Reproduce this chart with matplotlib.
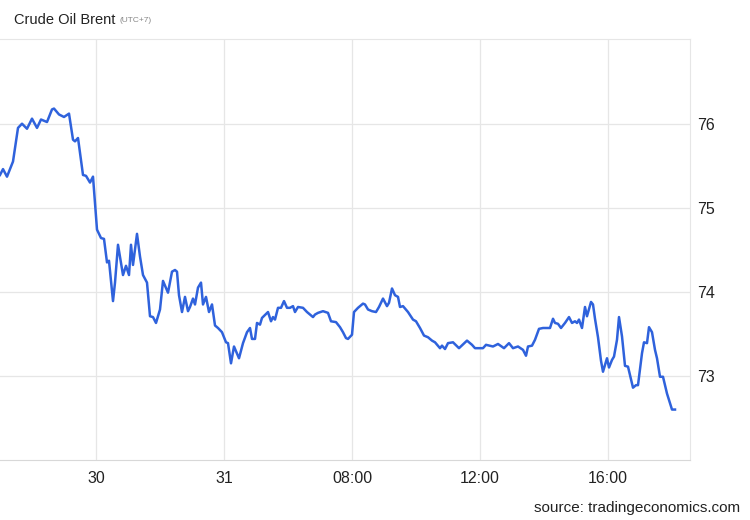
import matplotlib.pyplot as plt

plt.rcParams['font.family'] = ['Liberation Sans', 'DejaVu Sans']

# time in chart steps (32 steps = 1 hour on the compressed trading axis)
t = [0, 3, 7, 13, 18, 22, 27, 32, 37, 41, 47, 52, 54, 59, 64, 69, 73, 75, 78, 83,
     86, 90, 93, 97, 101, 104, 107, 109, 113, 115, 118, 123, 126, 129, 131, 133,
     137, 140, 143, 147, 150, 153, 156, 160, 163, 168, 172, 175, 177, 179, 182,
     185, 188, 190, 193, 195, 198, 201, 203, 206, 209, 212, 215, 218, 222, 226,
     228, 231, 234, 239, 243, 247, 250, 252, 255, 257, 260, 262, 268, 271, 273,
     275, 278, 281, 284, 287, 290, 293, 295, 298, 303, 307, 310, 313, 315, 318,
     323, 328, 331, 336, 340, 343, 346, 348, 352, 354, 358, 363, 365, 368, 372,
     376, 379, 383, 387, 389, 392, 395, 398, 400, 403, 408, 413, 416, 420, 424,
     428, 432, 435, 440, 442, 445, 448, 453, 459, 467, 472, 475, 478, 483, 486,
     493, 498, 504, 509, 513, 518, 523, 526, 528, 532, 535, 539, 543, 550, 553,
     555, 558, 561, 565, 569, 572, 575, 577, 579, 582, 585, 587, 591, 593, 595,
     598, 601, 603, 607, 609, 612, 614, 617, 619, 622, 625, 628, 633, 636, 638,
     642, 644, 647, 649, 652, 655, 657, 660, 663, 667, 672, 675]

price = [75.39, 75.46, 75.37, 75.55, 75.95, 76.00, 75.94, 76.06, 75.95, 76.05,
         76.02, 76.17, 76.18, 76.11, 76.08, 76.12, 75.81, 75.79, 75.83, 75.39,
         75.38, 75.30, 75.37, 74.74, 74.64, 74.63, 74.35, 74.37, 73.89, 74.11,
         74.56, 74.20, 74.31, 74.20, 74.56, 74.32, 74.69, 74.42, 74.20, 74.11,
         73.71, 73.70, 73.63, 73.79, 74.13, 73.99, 74.24, 74.26, 74.24, 73.96,
         73.76, 73.94, 73.77, 73.82, 73.92, 73.85, 74.05, 74.11, 73.85, 73.94,
         73.76, 73.85, 73.60, 73.57, 73.52, 73.40, 73.39, 73.15, 73.35, 73.21,
         73.39, 73.52, 73.57, 73.44, 73.44, 73.63, 73.61, 73.69, 73.76, 73.65,
         73.70, 73.67, 73.81, 73.81, 73.89, 73.81, 73.81, 73.83, 73.76, 73.82,
         73.81, 73.76, 73.73, 73.70, 73.73, 73.75, 73.77, 73.75, 73.65, 73.64,
         73.58, 73.52, 73.45, 73.44, 73.49, 73.76, 73.81, 73.86, 73.85, 73.79,
         73.77, 73.76, 73.82, 73.92, 73.83, 73.87, 74.04, 73.96, 73.94, 73.82,
         73.83, 73.76, 73.67, 73.65, 73.57, 73.48, 73.46, 73.42, 73.40, 73.33,
         73.36, 73.32, 73.39, 73.40, 73.33, 73.42, 73.37, 73.33, 73.33, 73.33,
         73.37, 73.35, 73.38, 73.33, 73.39, 73.33, 73.35, 73.31, 73.24, 73.35,
         73.36, 73.43, 73.56, 73.57, 73.57, 73.68, 73.63, 73.62, 73.57, 73.63,
         73.70, 73.63, 73.65, 73.63, 73.67, 73.57, 73.82, 73.71, 73.88, 73.85,
         73.68, 73.46, 73.18, 73.05, 73.21, 73.10, 73.19, 73.23, 73.43, 73.70,
         73.47, 73.12, 73.11, 72.86, 72.89, 72.89, 73.27, 73.40, 73.39, 73.58,
         73.52, 73.31, 73.21, 72.99, 72.99, 72.79, 72.60, 72.60]

tick_pos = [96, 224, 352, 480, 608]
tick_labels = ['30', '31', '08:00', '12:00', '16:00']
y_ticks = [73, 74, 75, 76]

n = min(len(t), len(price))
t, price = t[:n], price[:n]

fig = plt.figure(figsize=(7.5, 5.2), dpi=100)
ax = fig.add_axes([0.0, 0.1154, 0.92, 0.81])

ax.plot(t, price, color='#2f62dc', lw=1.8, solid_joinstyle='round')

ax.set_xlim(0, 690)
ax.set_ylim(72, 77.01)
ax.set_xticks(tick_pos)
ax.set_xticklabels(tick_labels)
ax.set_yticks(y_ticks)
ax.yaxis.tick_right()
ax.tick_params(length=0, labelsize=11.5, colors='#222222')
ax.tick_params(axis='x', pad=8)
ax.tick_params(axis='y', pad=5)
ax.grid(color='#e6e6e6', lw=0.9)
ax.set_axisbelow(True)

ax.spines['left'].set_visible(False)
for s in ['top', 'right']:
    ax.spines[s].set_color('#e6e6e6')
ax.spines['bottom'].set_color('#d8d8d8')

fig.text(14 / 750, 1 - 20 / 520, 'Crude Oil Brent', fontsize=10.5, color='#222222', va='center')
fig.text(119 / 750, 1 - 21 / 520, '(UTC+7)', fontsize=6, color='#888888', va='center')
fig.text(740 / 750, 1 - 508 / 520, 'source: tradingeconomics.com', fontsize=11,
         color='#222222', ha='right', va='center')

plt.savefig('out.png', dpi=100)
